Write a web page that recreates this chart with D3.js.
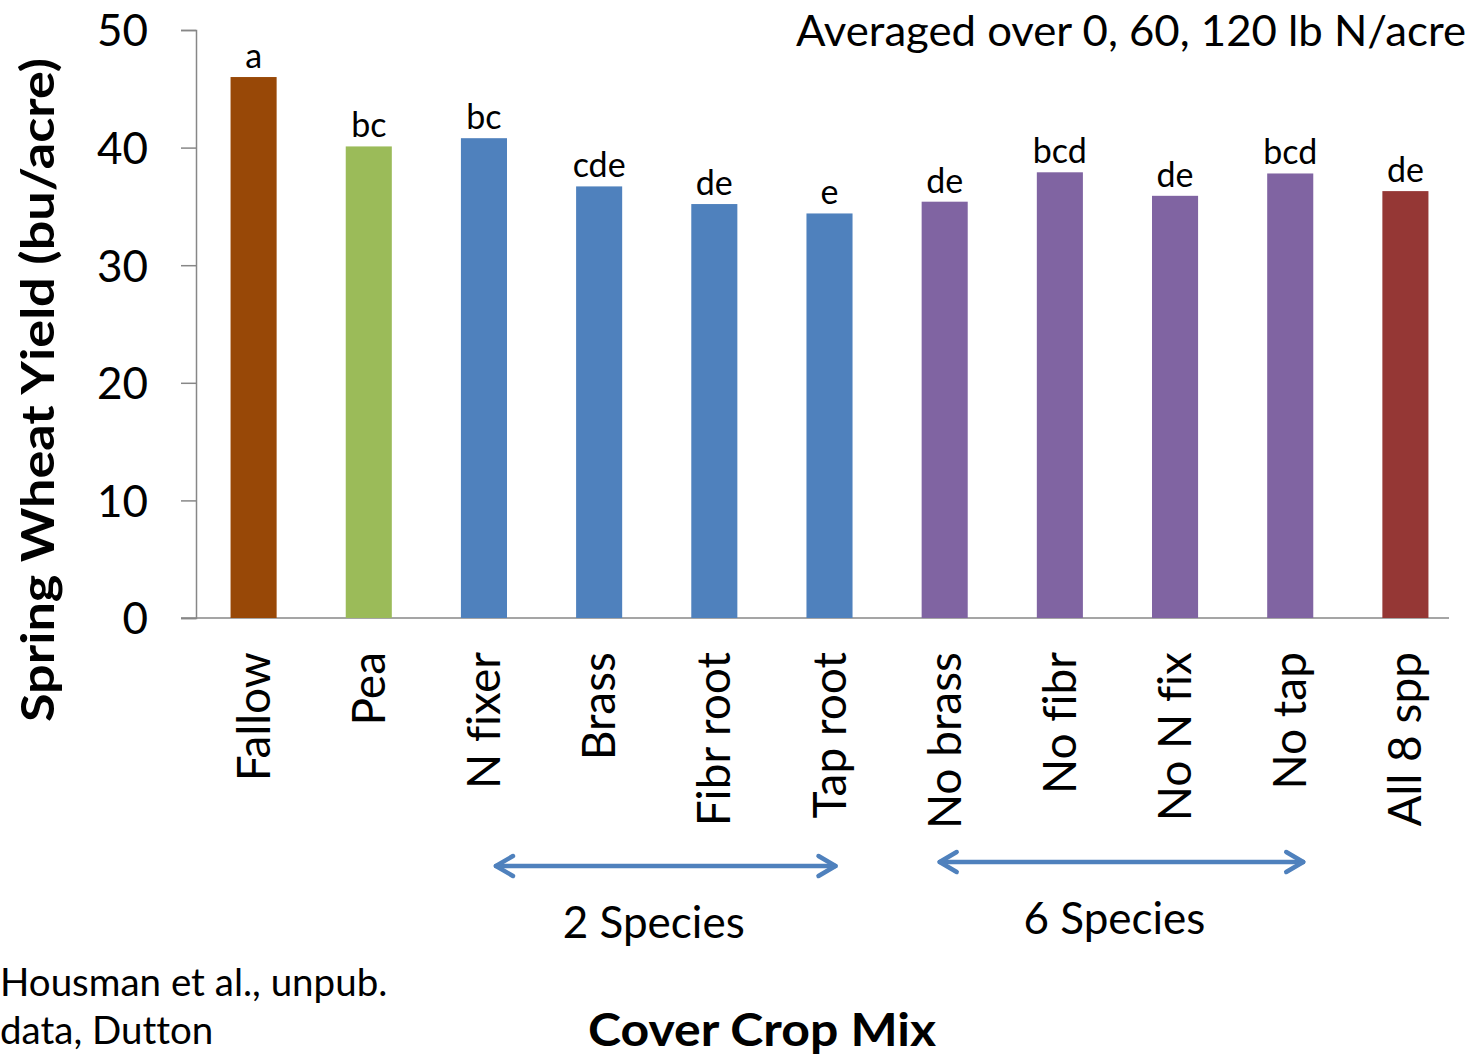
<!DOCTYPE html>
<html>
<head>
<meta charset="utf-8">
<script src="https://cdn.jsdelivr.net/npm/d3@7"></script>
<style>
  html, body { margin: 0; padding: 0; background: #ffffff; }
  svg { display: block; }
  text { font-family: Lato, "Open Sans", sans-serif; fill: #000;
         font-variant-ligatures: none; font-feature-settings: "liga" 0; }
</style>
</head>
<body>
<svg id="chart" width="1473" height="1058"></svg>
<script>
// ---- data ----
const categories = ["Fallow", "Pea", "N fixer", "Brass", "Fibr root", "Tap root",
                    "No brass", "No fibr", "No N fix", "No tap", "All 8 spp"];
const yields = [46.0, 40.1, 40.8, 36.7, 35.2, 34.4, 35.4, 37.9, 35.9, 37.8, 36.3];
const letters = ["a", "bc", "bc", "cde", "de", "e", "de", "bcd", "de", "bcd", "de"];
const groups = ["fallow", "pea", "two", "two", "two", "two", "six", "six", "six", "six", "all"];
const yTicks = [0, 10, 20, 30, 40, 50];
const speciesGroups = [
  { label: "2 Species", from: "N fixer", to: "Tap root" },
  { label: "6 Species", from: "No brass", to: "No tap" }
];
const titleText = "Averaged over 0, 60, 120 lb N/acre";
const yTitle = "Spring Wheat Yield (bu/acre)";
const xTitle = "Cover Crop Mix";
const sourceLines = ["Housman et al., unpub.", "data, Dutton"];

// ---- styles ----
const groupColor = d3.scaleOrdinal()
  .domain(["fallow", "pea", "two", "six", "all"])
  .range(["#984807", "#9BBB59", "#4F81BD", "#8064A2", "#953735"]);
const axisColor = "#878787";
const arrowColor = "#4F81BD";

const svg = d3.select("#chart");
const plotLeft = 196, plotRight = 1463, plotTop = 30, plotBottom = 618;

const x = d3.scaleBand().domain(categories).range([plotLeft, plotRight])
  .paddingInner(0.6).paddingOuter(0.3);
const y = d3.scaleLinear().domain([0, 50]).range([plotBottom, plotTop]);
const cx = c => x(c) + x.bandwidth() / 2;

// y axis
const yAxis = svg.append("g").attr("transform", `translate(${plotLeft},0)`)
  .call(d3.axisLeft(y).tickValues(yTicks).tickSize(15).tickPadding(33).tickFormat(d3.format("d")));
yAxis.select(".domain").attr("stroke", axisColor).attr("stroke-width", 1.5);
yAxis.selectAll(".tick line").attr("stroke", axisColor).attr("stroke-width", 1.5);
yAxis.selectAll(".tick text")
  .attr("font-family", "Lato, sans-serif").attr("font-size", 44).attr("fill", "#000")
  .attr("dy", "0.36em");

// x axis line (from tick start to plot end)
svg.append("line")
  .attr("x1", plotLeft - 15).attr("x2", 1449)
  .attr("y1", y(0)).attr("y2", y(0))
  .attr("stroke", axisColor).attr("stroke-width", 1.5);

// bars
const data = categories.map((c, i) => ({ c, v: yields[i], l: letters[i], g: groups[i] }));
svg.append("g").selectAll("rect").data(data).join("rect")
  .attr("x", d => x(d.c))
  .attr("width", x.bandwidth())
  .attr("y", d => y(d.v))
  .attr("height", d => y(0) - y(d.v))
  .attr("fill", d => groupColor(d.g));

// significance letters
svg.append("g").selectAll("text").data(data).join("text")
  .attr("x", d => cx(d.c))
  .attr("y", d => y(d.v) - 9)
  .attr("text-anchor", "middle")
  .attr("font-size", 34)
  .text(d => d.l);

// category labels (rotated)
svg.append("g").selectAll("text").data(categories).join("text")
  .attr("transform", d => `translate(${cx(d) + 16},652) rotate(-90)`)
  .attr("text-anchor", "end")
  .attr("font-size", 46)
  .text(d => d);

// species arrows
const drawArrow = (x1, x2, yy) => {
  const g = svg.append("g").attr("stroke", arrowColor).attr("stroke-width", 4.5)
    .attr("fill", "none").attr("stroke-linecap", "round").attr("stroke-linejoin", "round");
  g.append("line").attr("x1", x1).attr("x2", x2).attr("y1", yy).attr("y2", yy);
  g.append("polyline").attr("points", `${x1 + 17},${yy - 10} ${x1},${yy} ${x1 + 17},${yy + 10}`);
  g.append("polyline").attr("points", `${x2 - 17},${yy - 10} ${x2},${yy} ${x2 - 17},${yy + 10}`);
};
speciesGroups.forEach((s, i) => {
  const x1 = cx(s.from) + (i === 0 ? 12 : -5);
  const x2 = cx(s.to) + (i === 0 ? 6 : 13);
  const yy = i === 0 ? 866 : 862;
  drawArrow(x1, x2, yy);
  svg.append("text")
    .attr("x", (cx(s.from) + cx(s.to)) / 2 - 3)
    .attr("y", i === 0 ? 938 : 934)
    .attr("text-anchor", "middle")
    .attr("font-size", 44)
    .text(s.label);
});

// title (top right)
svg.append("text")
  .attr("x", 1466).attr("y", 46)
  .attr("text-anchor", "end")
  .attr("font-size", 43)
  .attr("textLength", 670).attr("lengthAdjust", "spacingAndGlyphs")
  .text(titleText);

// y title
svg.append("text")
  .attr("transform", "translate(54,390) rotate(-90)")
  .attr("text-anchor", "middle")
  .attr("font-size", 46).attr("font-weight", 700)
  .attr("textLength", 664).attr("lengthAdjust", "spacingAndGlyphs")
  .text(yTitle);

// x title
svg.append("text")
  .attr("x", 762).attr("y", 1046)
  .attr("text-anchor", "middle")
  .attr("font-size", 46).attr("font-weight", 700)
  .attr("textLength", 348).attr("lengthAdjust", "spacingAndGlyphs")
  .text(xTitle);

// source note
svg.append("g").selectAll("text").data(sourceLines).join("text")
  .attr("x", 0)
  .attr("y", (d, i) => 996 + i * 48)
  .attr("font-size", 38.5)
  .text(d => d);
</script>
</body>
</html>
